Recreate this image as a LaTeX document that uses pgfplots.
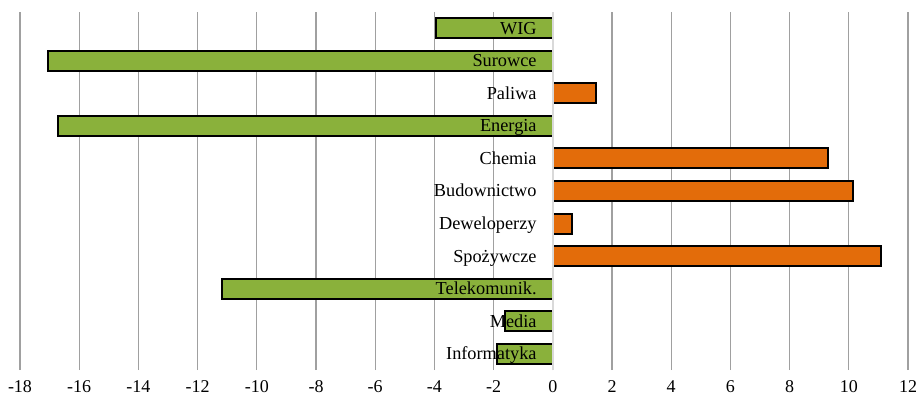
\documentclass[border=0pt]{standalone}
\usepackage{fontspec}
\setmainfont{Liberation Serif}
\usepackage{pgfplots}
\pgfplotsset{compat=1.18}
\definecolor{bargreen}{HTML}{8AB13B}
\definecolor{barorange}{HTML}{E36C0A}
\definecolor{gridgray}{HTML}{A0A0A0}
\definecolor{zerogray}{HTML}{D9D9D9}
\tikzset{lab/.style={anchor=base east, inner sep=0pt, xshift=-16bp, yshift=-6bp, font=\fontsize{18.3bp}{21bp}\selectfont}}
\begin{document}
\fontsize{18bp}{21bp}\selectfont
\begin{tikzpicture}
\useasboundingbox (-20bp,-31bp) rectangle (904bp,370bp);
\begin{axis}[
  at={(0,0)}, anchor=south west,
  scale only axis,
  width=888bp, height=358bp,
  xmin=-18, xmax=12,
  ymin=-0.5, ymax=10.5,
  axis line style={draw=none},
  xtick={-18,-16,-14,-12,-10,-8,-6,-4,-2,0,2,4,6,8,10,12},
  xticklabels={{-18},{-16},{-14},{-12},{-10},{-8},{-6},{-4},{-2},{0},{2},{4},{6},{8},{10},{12}},
  ytick=\empty,
  xmajorgrids,
  grid style={gridgray, line width=1.2bp},
  major tick length=0pt,
  xticklabel style={font=\fontsize{18bp}{21bp}\selectfont, yshift=-4bp},
  clip=false,
]
\addplot[xbar, bar width=20bp, bar shift=0pt, fill=bargreen, draw=black, line width=2bp]
  coordinates {(-3.94,10) (-17.04,9) (-16.71,7) (-11.16,2) (-1.61,1) (-1.89,0)};
\addplot[xbar, bar width=20bp, bar shift=0pt, fill=barorange, draw=black, line width=2bp]
  coordinates {(1.45,8) (9.30,6) (10.15,5) (0.66,4) (11.08,3)};
\draw[zerogray, line width=2bp] (axis cs:0,-0.5) -- (axis cs:0,10.5);
\node[lab] at (axis cs:0,10) {WIG};
\node[lab] at (axis cs:0,9) {Surowce};
\node[lab] at (axis cs:0,8) {Paliwa};
\node[lab] at (axis cs:0,7) {Energia};
\node[lab] at (axis cs:0,6) {Chemia};
\node[lab] at (axis cs:0,5) {Budownictwo};
\node[lab] at (axis cs:0,4) {Deweloperzy};
\node[lab] at (axis cs:0,3) {Spożywcze};
\node[lab] at (axis cs:0,2) {Telekomunik.};
\node[lab] at (axis cs:0,1) {Media};
\node[lab] at (axis cs:0,0) {Informatyka};
\end{axis}
\end{tikzpicture}
\end{document}
